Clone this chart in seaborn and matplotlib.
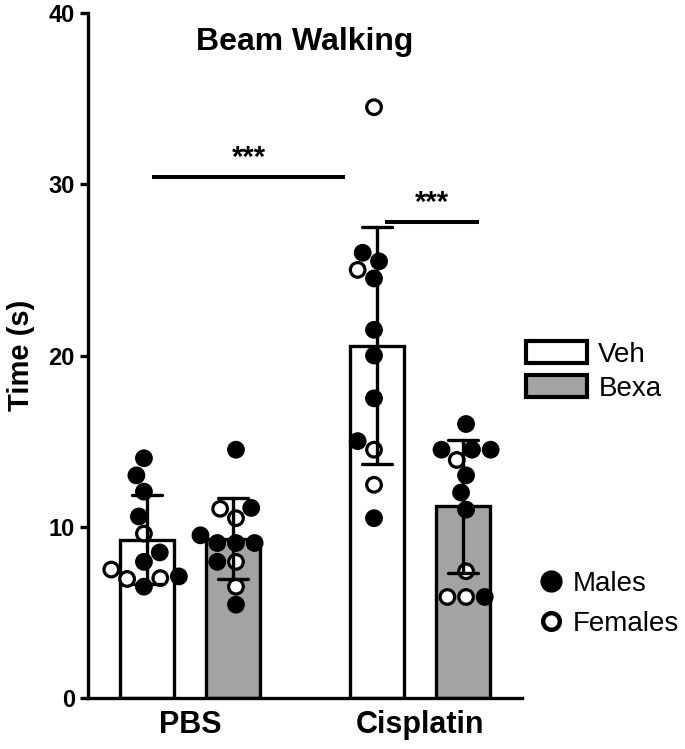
import numpy as np
import pandas as pd
import seaborn as sns
import matplotlib.pyplot as plt
from matplotlib.patches import Patch
from matplotlib.lines import Line2D

# group labels
groups = ['PBS', 'Cisplatin']
treatments = ['Veh', 'Bexa']

# time on beam (s) per animal; M = male, F = female
pbs_veh = [14.0, 13.0, 12.05, 10.6, 9.6, 8.5, 7.95, 7.5, 6.95, 7.0, 7.1, 6.5]
pbs_veh_sex = ['M', 'M', 'M', 'M', 'F', 'M', 'M', 'F', 'F', 'F', 'M', 'M']
pbs_bexa = [14.5, 11.1, 11.05, 10.5, 9.05, 9.5, 9.05, 9.05, 7.95, 7.95, 6.5, 5.45]
pbs_bexa_sex = ['M', 'M', 'F', 'F', 'M', 'M', 'M', 'M', 'F', 'M', 'F', 'M']
cis_veh = [34.5, 26.0, 25.5, 25.0, 24.5, 21.5, 20.0, 17.5, 15.0, 14.5, 12.45, 10.5]
cis_veh_sex = ['F', 'M', 'M', 'F', 'M', 'M', 'M', 'M', 'M', 'F', 'F', 'M']
cis_bexa = [16.0, 14.5, 14.5, 14.5, 13.9, 13.0, 12.0, 11.0, 7.4, 5.9, 5.9, 5.9]
cis_bexa_sex = ['M', 'M', 'M', 'M', 'F', 'M', 'M', 'M', 'F', 'M', 'F', 'F']

# montando o dataframe em formato longo
rows = []
for g, t, vals, sexes in [('PBS', 'Veh', pbs_veh, pbs_veh_sex),
                          ('PBS', 'Bexa', pbs_bexa, pbs_bexa_sex),
                          ('Cisplatin', 'Veh', cis_veh, cis_veh_sex),
                          ('Cisplatin', 'Bexa', cis_bexa, cis_bexa_sex)]:
    for v, s in zip(vals, sexes):
        rows.append({'group': g, 'treat': t, 'time': v, 'sex': s})
df = pd.DataFrame(rows)

sns.set_style('ticks')
plt.rcParams['font.family'] = ['Liberation Sans', 'DejaVu Sans']
plt.rcParams['text.color'] = 'black'
plt.rcParams['axes.labelcolor'] = 'black'
plt.rcParams['xtick.color'] = 'black'
plt.rcParams['ytick.color'] = 'black'

fig = plt.figure(figsize=(6.85, 7.49), dpi=100)
ax = fig.add_axes([0.1285, 0.0681, 0.6335, 0.9145])

lw = 2.4
sns.barplot(data=df, x='group', y='time', hue='treat', order=groups, hue_order=treatments,
            palette={'Veh': 'white', 'Bexa': '#a3a3a3'}, width=0.75, gap=0.37,
            errorbar='sd', capsize=0.26,
            err_kws={'color': 'black', 'linewidth': lw, 'zorder': 6},
            edgecolor='black', linewidth=lw, legend=False, ax=ax)

n_before = len(ax.collections)
sns.swarmplot(data=df, x='group', y='time', hue='treat', order=groups, hue_order=treatments,
              dodge=True, palette=['black', 'black'], size=10.5, linewidth=2.3,
              edgecolor='black', legend=False, ax=ax, zorder=4)

# pintando os pontos: machos cheios, fêmeas vazadas
for coll in ax.collections[n_before:]:
    offs = coll.get_offsets()
    if len(offs) == 0:
        continue
    x0 = offs[0, 0]
    gi = int(round(x0))
    ti = 0 if x0 < gi else 1
    sub = df[(df['group'] == groups[gi]) & (df['treat'] == treatments[ti])]
    fc = ['black' if s == 'M' else 'white' for s in sub['sex']]
    coll.set_facecolors(fc)
    coll.set_edgecolors('black')

ax.set_ylim(0, 40)
ax.set_xlim(-0.443, 1.443)
ax.set_yticks([0, 10, 20, 30, 40])
ax.set_xlabel('')
ax.set_ylabel('Time (s)', fontsize=21, fontweight='bold', labelpad=10)
ax.tick_params(axis='y', labelsize=17, width=lw, length=6, color='black')
ax.tick_params(axis='x', labelsize=22, length=0, pad=9)
for lab in ax.get_xticklabels() + ax.get_yticklabels():
    lab.set_fontweight('bold')
for sp in ['left', 'bottom']:
    ax.spines[sp].set_linewidth(lw)
    ax.spines[sp].set_color('black')
sns.despine(ax=ax)

ax.text(0.5, 0.98, 'Beam Walking', transform=ax.transAxes, ha='center', va='top',
        fontsize=23, fontweight='bold')

# barras de significância
ax.plot([-0.165, 0.674], [30.4, 30.4], color='black', lw=lw + 0.5, solid_capstyle='butt')
ax.text(0.257, 30.7, '***', ha='center', va='bottom', fontsize=21, fontweight='bold')
ax.plot([0.848, 1.257], [27.8, 27.8], color='black', lw=lw + 0.5, solid_capstyle='butt')
ax.text(1.052, 28.1, '***', ha='center', va='bottom', fontsize=21, fontweight='bold')

# legendas
h1 = [Patch(facecolor='white', edgecolor='black', linewidth=lw + 0.6, label='Veh'),
      Patch(facecolor='#a3a3a3', edgecolor='black', linewidth=lw + 0.6, label='Bexa')]
fig.legend(handles=h1, loc='center left', bbox_to_anchor=(0.768, 0.504), frameon=False,
           fontsize=20, handlelength=2.2, handleheight=0.85, handletextpad=0.4,
           labelspacing=0.25, borderpad=0, borderaxespad=0)

h2 = [Line2D([], [], marker='o', linestyle='none', markersize=15, markerfacecolor='black',
             markeredgecolor='black', label='Males'),
      Line2D([], [], marker='o', linestyle='none', markersize=12, markerfacecolor='white',
             markeredgecolor='black', markeredgewidth=3.2, label='Females')]
fig.legend(handles=h2, loc='center left', bbox_to_anchor=(0.788, 0.194), frameon=False,
           fontsize=20, handlelength=0.8, handletextpad=0.4, labelspacing=0.5,
           borderpad=0, borderaxespad=0)

fig.savefig('out.png', dpi=100)
